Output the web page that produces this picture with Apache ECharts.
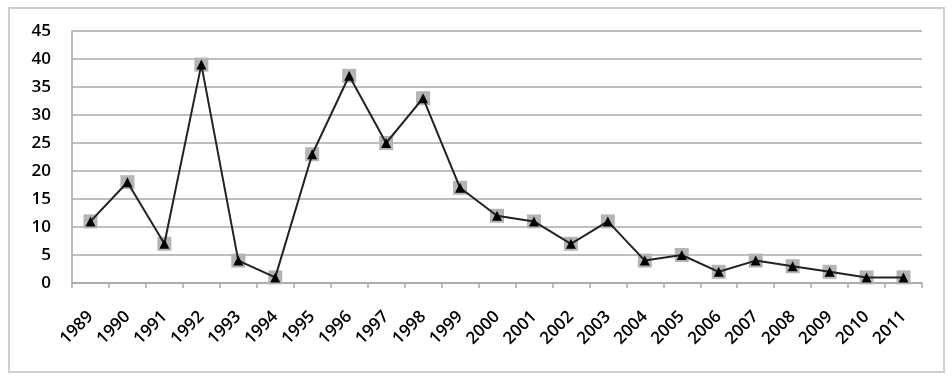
<!DOCTYPE html>
<html><head><meta charset="utf-8">
<script src="https://cdn.jsdelivr.net/npm/echarts@6/dist/echarts.min.js"></script>
<style>html,body{margin:0;padding:0;background:#fff}#c{width:952px;height:381px}</style>
</head><body><div id="c"></div>
<script>
const years = ['1989','1990','1991','1992','1993','1994','1995','1996','1997','1998','1999','2000','2001','2002','2003','2004','2005','2006','2007','2008','2009','2010','2011'];
const counts = [11,18,7,39,4,1,23,37,25,33,17,12,11,7,11,4,5,2,4,3,2,1,1];
const yTicks = [0,5,10,15,20,25,30,35,40,45];

const chart = echarts.init(document.getElementById('c'));
const font = 'Open Sans';
chart.setOption({
  animation: false,
  graphic: [{type:'rect', shape:{x:9,y:8,width:935,height:364}, style:{fill:'none', stroke:'#cfcfcf', lineWidth:2}}],
  grid: {left:72, right:30, top:31, bottom:98},
  xAxis: {
    type:'category', data: years, boundaryGap:true,
    axisLine:{lineStyle:{color:'#a8a8a8', width:1.5}},
    axisTick:{show:true, length:5, lineStyle:{color:'#a8a8a8', width:1.5}},
    axisLabel:{rotate:45, color:'#000', fontFamily:font, fontSize:17, fontWeight:600, margin:31, interval:0}
  },
  yAxis: {
    type:'value', min:yTicks[0], max:yTicks[yTicks.length-1], interval:5,
    axisLine:{show:true, lineStyle:{color:'#a8a8a8', width:1.5}},
    axisTick:{show:false},
    splitLine:{lineStyle:{color:'#aaaaaa', width:1.5}},
    axisLabel:{color:'#000', fontFamily:font, fontSize:17, fontWeight:600, margin:21}
  },
  series: [
    {type:'line', data:counts, symbol:'rect', symbolSize:14, lineStyle:{opacity:0}, itemStyle:{color:'#b4b4b4'}, z:2},
    {type:'line', data:counts, symbol:'triangle', symbolSize:10, lineStyle:{color:'#222', width:2}, itemStyle:{color:'#000'}, z:3}
  ]
});
</script></body></html>
